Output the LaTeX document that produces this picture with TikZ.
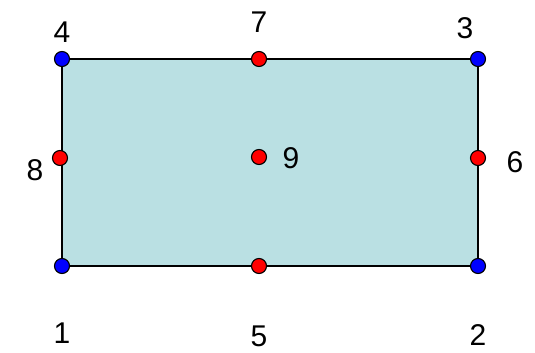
\documentclass[tikz,border=0pt]{standalone}
\usepackage{fontspec}
\setmainfont{Liberation Sans}
\begin{document}
\begin{tikzpicture}[x=1pt,y=-1pt,
  cornerdot/.style={circle,draw=black,line width=1.1pt,fill=blue,inner sep=0pt,minimum size=15pt},
  middot/.style={circle,draw=black,line width=1.1pt,fill=red,inner sep=0pt,minimum size=15pt},
  lbl/.style={font=\fontsize{30}{31}\selectfont,inner sep=0pt}]
\useasboundingbox (0,0) rectangle (535,353);
\definecolor{tealfill}{HTML}{BAE0E3}
\coordinate (c1) at (62,266);
\coordinate (c2) at (478,266);
\coordinate (c3) at (478,59);
\coordinate (c4) at (62,59);
\filldraw[fill=tealfill,draw=black,line width=1.2pt] (c1) -- (c2) -- (c3) -- (c4) -- cycle;
\node[cornerdot] (p1) at (c1) {};
\node[cornerdot] (p2) at (c2) {};
\node[cornerdot] (p3) at (c3) {};
\node[cornerdot] (p4) at (c4) {};
\node[middot] (p5) at (259,266) {};
\node[middot] (p6) at (478,158) {};
\node[middot] (p7) at (259,59) {};
\node[middot] (p8) at (60,158) {};
\node[middot] (p9) at (259,157) {};
\node[lbl] (l1) at (62,333) {1};
\node[lbl] (l2) at (478,335) {2};
\node[lbl] (l3) at (465,28) {3};
\node[lbl] (l4) at (62,32) {4};
\node[lbl] (l5) at (259,336.5) {5};
\node[lbl] (l6) at (515,162) {6};
\node[lbl] (l7) at (259,22) {7};
\node[lbl] (l8) at (35,170) {8};
\node[lbl] (l9) at (291,158) {9};
\end{tikzpicture}
\end{document}
